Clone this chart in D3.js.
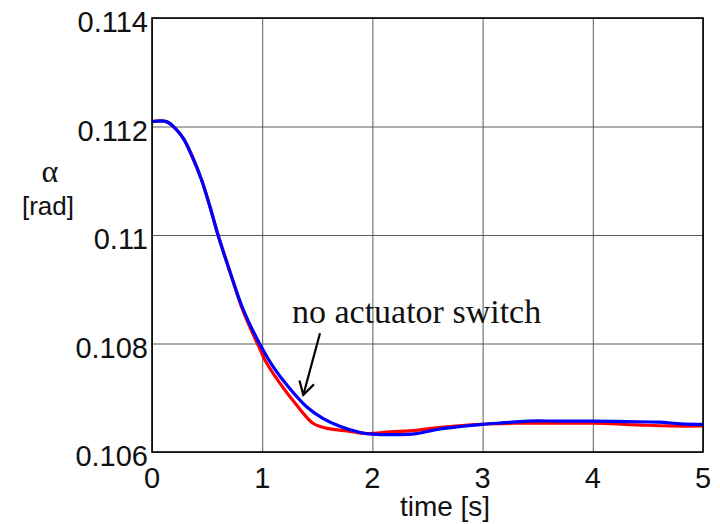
<!DOCTYPE html>
<html>
<head>
  <meta content="text/html;charset=utf-8" http-equiv="Content-Type">
  <title>alpha response</title>
<script src="https://cdnjs.cloudflare.com/ajax/libs/d3/7.8.5/d3.min.js"></script>
<style>
  body { margin: 0; background: #fff; }
</style>
</head>
<body>
<svg id="chart" width="720" height="524"></svg>
<script>

// --- data ---
let xTicks = [0, 1, 2, 3, 4, 5];
let yTicks = [0.106, 0.108, 0.110, 0.112, 0.114];
let yTickLabels = ['0.106', '0.108', '0.11', '0.112', '0.114'];

// blue: with actuator switch (drawn on top)
let blueT = [0, 0.13, 0.209, 0.284, 0.36, 0.451, 0.526, 0.602, 0.708, 0.823, 0.98,
             1.10, 1.25, 1.40, 1.55, 1.71, 1.89, 2.0, 2.2, 2.4, 2.6, 2.8, 3.0, 3.2, 3.4,
             3.7, 4.0, 4.3, 4.6, 4.8, 5.0];
let blueV = [0.11209, 0.11209, 0.11197, 0.11178, 0.11147, 0.11101, 0.11052, 0.10998, 0.10932,
             0.10865, 0.10798, 0.10757, 0.10717, 0.10684, 0.10662, 0.10647, 0.10636,
             0.10633, 0.10632, 0.10634, 0.10642, 0.10647, 0.10651, 0.10654, 0.10657, 0.10657,
             0.10657, 0.10656, 0.10655, 0.10652, 0.10651];

// red: no actuator switch
let redT = [0, 0.13, 0.209, 0.284, 0.36, 0.451, 0.526, 0.602, 0.708, 0.823, 0.965,
            1.04, 1.16, 1.31, 1.46, 1.58, 1.77, 1.95, 2.16, 2.4, 2.6, 2.9, 3.3, 3.7, 4.0,
            4.4, 4.7, 5.0];
let redV = [0.11209, 0.11209, 0.11197, 0.11178, 0.11147, 0.11101, 0.11052, 0.10998, 0.10932,
            0.10862, 0.10796, 0.10764, 0.10727, 0.10687, 0.10653, 0.10644, 0.10639,
            0.10634, 0.10637, 0.10640, 0.10645, 0.10650, 0.10653, 0.10653, 0.10653, 0.10650,
            0.10648, 0.10648];

let noteText = 'no actuator switch';
let notePos  = {t: 1.270, v: 0.108378};
let arrowTail = {t: 1.5245, v: 0.108188};
let arrowTip  = {t: 1.373, v: 0.107051};

// --- layout ---
let margin = {top: 18, right: 17, bottom: 72, left: 152};
let width  = 720 - margin.left - margin.right;
let height = 524 - margin.top - margin.bottom;

let svg = d3.select('#chart');
let g = svg.append('g').attr('transform', `translate(${margin.left},${margin.top})`);

let x = d3.scaleLinear().domain([0, 5]).range([0, width]);
let y = d3.scaleLinear().domain([0.106, 0.114]).range([height, 0]);

// grid
g.append('g')
   .attr('transform', `translate(0,${height})`)
   .call(d3.axisBottom(x).tickValues(xTicks).tickSize(-height).tickFormat(''))
   .call(a => a.select('.domain').remove())
   .selectAll('line')
      .attr('stroke', '#5a5a5a')
      .attr('stroke-width', 1);

g.append('g')
   .call(d3.axisLeft(y).tickValues(yTicks).tickSize(-width).tickFormat(''))
   .call(a => a.select('.domain').remove())
   .selectAll('line')
      .attr('stroke', '#5a5a5a')
      .attr('stroke-width', 1);

// tick labels
g.selectAll('text.xlab')
   .data(xTicks)
   .enter()
   .append('text')
      .attr('class', 'xlab')
      .attr('x', d => x(d))
      .attr('y', height + 36)
      .attr('text-anchor', 'middle')
      .attr('font-family', 'Liberation Sans, Arial, sans-serif')
      .attr('font-size', 29)
      .attr('fill', '#111')
      .text(d => d);

g.selectAll('text.ylab')
   .data(yTicks)
   .enter()
   .append('text')
      .attr('class', 'ylab')
      .attr('x', -4)
      .attr('y', d => y(d) + 14)
      .attr('text-anchor', 'end')
      .attr('font-family', 'Liberation Sans, Arial, sans-serif')
      .attr('font-size', 29)
      .attr('fill', '#111')
      .text((d, i) => yTickLabels[i]);

// curves
let line = d3.line()
   .x(d => x(d[0]))
   .y(d => y(d[1]))
   .curve(d3.curveCatmullRom.alpha(0.5));

g.append('path')
   .datum(d3.zip(redT, redV))
   .attr('d', line)
   .attr('fill', 'none')
   .attr('stroke', '#ff0000')
   .attr('stroke-width', 3.2);

g.append('path')
   .datum(d3.zip(blueT, blueV))
   .attr('d', line)
   .attr('fill', 'none')
   .attr('stroke', '#0000ff')
   .attr('stroke-width', 3.2);

// frame
g.append('rect')
   .attr('x', 0).attr('y', 0)
   .attr('width', width).attr('height', height)
   .attr('fill', 'none')
   .attr('stroke', '#000')
   .attr('stroke-width', 1.6);

// annotation
g.append('text')
   .attr('x', x(notePos.t))
   .attr('y', y(notePos.v))
   .attr('font-family', 'Liberation Serif, Times New Roman, serif')
   .attr('font-size', 34)
   .attr('fill', '#111')
   .text(noteText);

let tx = x(arrowTip.t), ty = y(arrowTip.v);
let sx = x(arrowTail.t), sy = y(arrowTail.v);
let ang = Math.atan2(sy - ty, sx - tx);
let headLen = 15, headAng = Math.PI / 6;

g.append('line')
   .attr('x1', sx).attr('y1', sy)
   .attr('x2', tx).attr('y2', ty)
   .attr('stroke', '#000')
   .attr('stroke-width', 2.2);

g.append('path')
   .attr('d', d3.line()([
      [tx + headLen * Math.cos(ang - headAng), ty + headLen * Math.sin(ang - headAng)],
      [tx, ty],
      [tx + headLen * Math.cos(ang + headAng), ty + headLen * Math.sin(ang + headAng)]
   ]))
   .attr('fill', 'none')
   .attr('stroke', '#000')
   .attr('stroke-width', 2.2);

// axis titles
svg.append('text')
   .attr('x', 445)
   .attr('y', 516)
   .attr('text-anchor', 'middle')
   .attr('font-family', 'Liberation Sans, Arial, sans-serif')
   .attr('font-size', 28)
   .attr('fill', '#111')
   .text('time [s]');

svg.append('text')
   .attr('x', 50)
   .attr('y', 182)
   .attr('text-anchor', 'middle')
   .attr('font-family', 'Liberation Serif, Times New Roman, serif')
   .attr('font-size', 32)
   .attr('fill', '#111')
   .text('α');

svg.append('text')
   .attr('x', 48)
   .attr('y', 215)
   .attr('text-anchor', 'middle')
   .attr('font-family', 'Liberation Sans, Arial, sans-serif')
   .attr('font-size', 26)
   .attr('fill', '#111')
   .text('[rad]');

</script>
</body>
</html>
